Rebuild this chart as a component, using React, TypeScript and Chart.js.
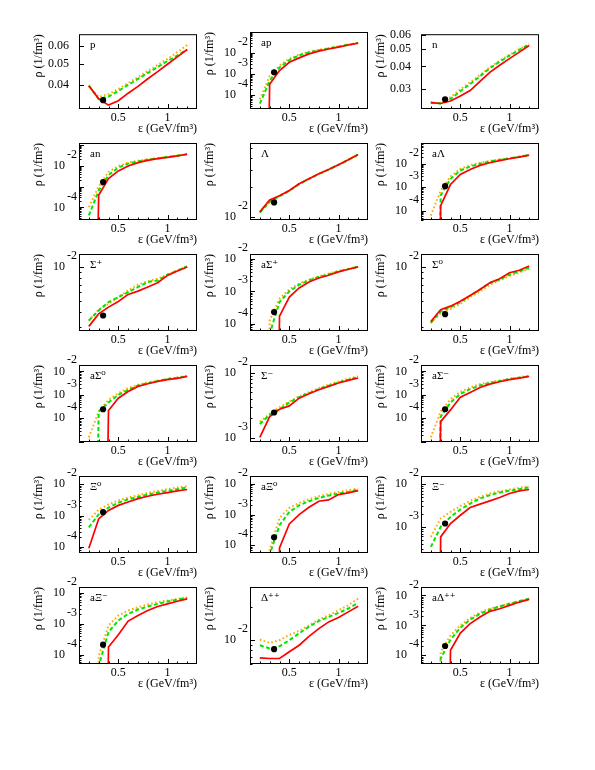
import React, { useEffect, useRef } from "react";
import { Chart, registerables } from "chart.js";

Chart.register(...registerables);

const FONT = "'Liberation Serif', 'DejaVu Serif', serif";

// energy density points (GeV/fm^3)
const EPS = [0.2, 0.3, 0.4, 0.5, 0.6, 0.7, 0.8, 0.9, 1.0, 1.1, 1.2];
const DOT_EPS = 0.345;
const X_TICKS = [0.5, 1];
const X_MINOR = [0.2, 0.3, 0.4, 0.5, 0.6, 0.7, 0.8, 0.9, 1, 1.1, 1.2];
const X_MIN = 0.1;
const X_MAX = 1.3;

// p
const P_RED = [0.0397, 0.0346, 0.0324, 0.0339, 0.0367, 0.0394, 0.0427, 0.046, 0.0497, 0.0537, 0.058];
const P_GREEN = [0.0397, 0.0346, 0.0354, 0.0376, 0.04, 0.0426, 0.0454, 0.0483, 0.0514, 0.0545, 0.058];
const P_ORANGE = [0.0395, 0.0353, 0.0363, 0.0384, 0.0408, 0.0434, 0.0463, 0.0493, 0.0526, 0.0564, 0.0608];
const P_DOT = 0.0341;
// ap
const AP_RED = [0, 3.31e-4, 1.45e-3, 3.55e-3, 5.75e-3, 8.9e-3, 1.2e-2, 1.51e-2, 1.86e-2, 2.34e-2, 2.88e-2];
const AP_GREEN = [3.98e-5, 4.79e-4, 2.04e-3, 4.57e-3, 7.59e-3, 1.05e-2, 1.32e-2, 1.58e-2, 1.95e-2, 2.4e-2, 2.88e-2];
const AP_ORANGE = [6.46e-5, 7.94e-4, 2.51e-3, 5.25e-3, 8.32e-3, 1.12e-2, 1.38e-2, 1.66e-2, 2.0e-2, 2.45e-2, 2.95e-2];
const AP_DOT = 1.2e-3;
// n
const N_RED = [0.025, 0.0247, 0.0255, 0.0272, 0.0292, 0.0329, 0.037, 0.0406, 0.0442, 0.0481, 0.0524];
const N_GREEN = [0.025, 0.0247, 0.0262, 0.029, 0.0318, 0.0352, 0.039, 0.0425, 0.046, 0.0495, 0.053];
const N_ORANGE = [0.025, 0.0248, 0.0268, 0.0297, 0.0325, 0.0358, 0.0395, 0.043, 0.0465, 0.05, 0.0535];
const N_DOT = 0.0261;
// an
const AN_RED = [0, 3.8e-4, 2.4e-3, 5.62e-3, 9.77e-3, 1.41e-2, 1.82e-2, 2.19e-2, 2.51e-2, 2.95e-2, 3.55e-2];
const AN_GREEN = [4.17e-5, 6.31e-4, 3.55e-3, 8.13e-3, 1.26e-2, 1.62e-2, 1.95e-2, 2.24e-2, 2.63e-2, 3.02e-2, 3.55e-2];
const AN_ORANGE = [1.05e-4, 1.0e-3, 5.01e-3, 9.77e-3, 1.41e-2, 1.74e-2, 2.04e-2, 2.34e-2, 2.69e-2, 3.09e-2, 3.63e-2];
const AN_DOT = 1.66e-3;
// Lambda
const L_RED = [1.12e-2, 1.48e-2, 1.64e-2, 1.85e-2, 2.17e-2, 2.44e-2, 2.74e-2, 3.04e-2, 3.4e-2, 3.82e-2, 4.31e-2];
const L_GREEN = [1.1e-2, 1.42e-2, 1.62e-2, 1.84e-2, 2.15e-2, 2.43e-2, 2.73e-2, 3.03e-2, 3.38e-2, 3.8e-2, 4.3e-2];
const L_ORANGE = [1.1e-2, 1.42e-2, 1.63e-2, 1.85e-2, 2.16e-2, 2.44e-2, 2.74e-2, 3.05e-2, 3.4e-2, 3.83e-2, 4.33e-2];
const L_DOT = 1.4e-2;
// anti-Lambda
const AL_RED = [0, 1.62e-4, 1.3e-3, 3.49e-3, 5.71e-3, 8.51e-3, 1.1e-2, 1.35e-2, 1.64e-2, 1.93e-2, 2.35e-2];
const AL_GREEN = [0, 4.4e-4, 2.28e-3, 5.18e-3, 7.69e-3, 1.0e-2, 1.26e-2, 1.48e-2, 1.69e-2, 2.0e-2, 2.35e-2];
const AL_ORANGE = [6.11e-5, 7.19e-4, 2.86e-3, 6.11e-3, 8.77e-3, 1.1e-2, 1.32e-2, 1.53e-2, 1.74e-2, 2.04e-2, 2.4e-2];
const AL_DOT = 1.1e-3;
// Sigma+
const SP_RED = [3.01e-3, 3.87e-3, 4.44e-3, 4.98e-3, 5.74e-3, 6.14e-3, 6.67e-3, 7.28e-3, 8.43e-3, 9.23e-3, 1.0e-2];
const SP_GREEN = [3.38e-3, 4.15e-3, 4.91e-3, 5.43e-3, 6.01e-3, 6.67e-3, 7.38e-3, 7.62e-3, 8.55e-3, 9.29e-3, 1.01e-2];
const SP_ORANGE = [3.38e-3, 4.23e-3, 4.74e-3, 5.43e-3, 6.22e-3, 6.98e-3, 7.48e-3, 7.89e-3, 8.55e-3, 9.35e-3, 1.01e-2];
const SP_DOT = 3.75e-3;
// anti-Sigma+
const ASP_RED = [0, 0, 1.74e-4, 6.7e-4, 1.27e-3, 1.94e-3, 2.57e-3, 3.1e-3, 3.94e-3, 4.75e-3, 5.61e-3];
const ASP_GREEN = [0, 5.01e-5, 4.7e-4, 1.0e-3, 1.6e-3, 2.18e-3, 2.76e-3, 3.33e-3, 4.12e-3, 4.75e-3, 5.74e-3];
const ASP_ORANGE = [0, 1.28e-4, 5.94e-4, 1.15e-3, 1.74e-3, 2.29e-3, 2.88e-3, 3.47e-3, 4.22e-3, 4.84e-3, 5.82e-3];
const ASP_DOT = 2.31e-4;
// Sigma0
const S0_RED = [3.32e-3, 4.21e-3, 4.53e-3, 5.01e-3, 5.62e-3, 6.35e-3, 7.28e-3, 7.89e-3, 8.91e-3, 9.35e-3, 1.02e-2];
const S0_GREEN = [3.23e-3, 4.06e-3, 4.44e-3, 4.91e-3, 5.62e-3, 6.35e-3, 7.23e-3, 7.78e-3, 8.55e-3, 9.16e-3, 9.86e-3];
const S0_ORANGE = [3.23e-3, 3.93e-3, 4.29e-3, 4.74e-3, 5.43e-3, 6.1e-3, 6.98e-3, 7.62e-3, 8.34e-3, 8.91e-3, 9.66e-3];
const S0_DOT = 3.85e-3;
// anti-Sigma0
const AS0_RED = [0, 0, 2.13e-4, 7.19e-4, 1.39e-3, 2.28e-3, 2.96e-3, 3.72e-3, 4.4e-3, 5.01e-3, 6.11e-3];
const AS0_GREEN = [0, 1.93e-4, 4.69e-4, 1.0e-3, 1.64e-3, 2.51e-3, 3.16e-3, 3.85e-3, 4.69e-3, 5.36e-3, 6.11e-3];
const AS0_ORANGE = [1.53e-5, 1.93e-4, 6.11e-4, 1.18e-3, 1.93e-3, 2.69e-3, 3.38e-3, 3.98e-3, 4.85e-3, 5.53e-3, 6.52e-3];
const AS0_DOT = 2.43e-4;
// Sigma-
const SM_RED = [1.01e-3, 2.12e-3, 2.75e-3, 3.1e-3, 4.08e-3, 4.78e-3, 5.51e-3, 6.21e-3, 7.0e-3, 7.69e-3, 8.36e-3];
const SM_GREEN = [1.63e-3, 2.25e-3, 2.75e-3, 3.5e-3, 4.24e-3, 4.89e-3, 5.65e-3, 6.35e-3, 7.16e-3, 7.87e-3, 8.67e-3];
const SM_ORANGE = [1.77e-3, 2.33e-3, 2.96e-3, 3.63e-3, 4.34e-3, 5.07e-3, 5.85e-3, 6.59e-3, 7.41e-3, 8.17e-3, 8.87e-3];
const SM_DOT = 2.45e-3;
// anti-Sigma-
const ASM_RED = [0, 7.19e-5, 2.28e-4, 7.94e-4, 1.26e-3, 2.06e-3, 2.86e-3, 3.61e-3, 4.4e-3, 5.13e-3, 6.11e-3];
const ASM_GREEN = [0, 1.18e-4, 4.69e-4, 1.1e-3, 1.75e-3, 2.51e-3, 3.16e-3, 3.85e-3, 4.69e-3, 5.36e-3, 6.11e-3];
const ASM_ORANGE = [1.53e-5, 1.93e-4, 6.52e-4, 1.35e-3, 2.06e-3, 2.86e-3, 3.49e-3, 4.11e-3, 4.85e-3, 5.53e-3, 6.52e-3];
const ASM_DOT = 2.43e-4;
// Xi0
const X0_RED = [9.06e-5, 7.8e-4, 1.45e-3, 2.1e-3, 2.69e-3, 3.45e-3, 4.1e-3, 4.75e-3, 5.38e-3, 6.1e-3, 6.73e-3];
const X0_GREEN = [4.21e-4, 1.08e-3, 1.77e-3, 2.56e-3, 3.28e-3, 3.9e-3, 4.65e-3, 5.38e-3, 6.1e-3, 6.9e-3, 7.8e-3];
const X0_ORANGE = [7.24e-4, 1.52e-3, 2.26e-3, 3.05e-3, 3.72e-3, 4.42e-3, 5.25e-3, 6.1e-3, 6.9e-3, 7.8e-3, 8.61e-3];
const X0_DOT = 1.28e-3;
// anti-Xi0
const AX0_RED = [0, 0, 8.18e-5, 4.97e-4, 1.0e-3, 1.73e-3, 2.72e-3, 3.01e-3, 4.49e-3, 5.09e-3, 6.07e-3];
const AX0_GREEN = [0, 5.01e-5, 4.49e-4, 1.22e-3, 2.01e-3, 2.72e-3, 3.49e-3, 4.17e-3, 4.84e-3, 5.48e-3, 6.53e-3];
const AX0_ORANGE = [0, 7.23e-5, 7.78e-4, 1.65e-3, 2.4e-3, 3.16e-3, 3.96e-3, 4.72e-3, 5.48e-3, 6.21e-3, 7.05e-3];
const AX0_DOT = 1.82e-4;
// Xi-
const XM_RED = [0, 5.83e-4, 1.2e-3, 1.87e-3, 2.84e-3, 3.4e-3, 4.06e-3, 4.86e-3, 6.04e-3, 6.98e-3, 7.5e-3];
const XM_GREEN = [3.4e-4, 1.0e-3, 1.71e-3, 2.55e-3, 3.52e-3, 4.61e-3, 5.52e-3, 6.38e-3, 6.98e-3, 7.64e-3, 8.36e-3];
const XM_ORANGE = [5.83e-4, 1.57e-3, 2.25e-3, 3.05e-3, 4.06e-3, 5.05e-3, 6.04e-3, 6.85e-3, 7.5e-3, 8.2e-3, 8.97e-3];
const XM_DOT = 1.2e-3;
// anti-Xi-
const AXM_RED = [0, 0, 1.8e-4, 4.46e-4, 1.22e-3, 1.85e-3, 2.67e-3, 3.57e-3, 4.35e-3, 5.28e-3, 6.28e-3];
const AXM_GREEN = [0, 4.47e-5, 5.42e-4, 1.28e-3, 2.08e-3, 2.86e-3, 3.57e-3, 4.35e-3, 5.16e-3, 5.98e-3, 6.76e-3];
const AXM_ORANGE = [0, 9.33e-5, 8.85e-4, 1.85e-3, 2.67e-3, 3.4e-3, 4.14e-3, 4.91e-3, 5.56e-3, 6.28e-3, 7.1e-3];
const AXM_DOT = 2.14e-4;
// Delta++
const D_RED = [6.81e-3, 6.71e-3, 6.71e-3, 7.73e-3, 8.87e-3, 1.07e-2, 1.26e-2, 1.45e-2, 1.59e-2, 1.79e-2, 2.01e-2];
const D_GREEN = [8.87e-3, 8.28e-3, 8.69e-3, 9.86e-3, 1.14e-2, 1.31e-2, 1.48e-2, 1.61e-2, 1.75e-2, 1.92e-2, 2.16e-2];
const D_ORANGE = [1.0e-2, 9.33e-3, 9.86e-3, 1.1e-2, 1.2e-2, 1.35e-2, 1.52e-2, 1.67e-2, 1.85e-2, 2.06e-2, 2.37e-2];
const D_DOT = 8.17e-3;
// anti-Delta++
const AD_RED = [0, 0, 1.47e-4, 5.55e-4, 1.14e-3, 1.9e-3, 2.93e-3, 3.6e-3, 4.65e-3, 6.0e-3, 7.36e-3];
const AD_GREEN = [0, 7.76e-5, 3.33e-4, 8.36e-4, 1.55e-3, 2.45e-3, 3.33e-3, 4.3e-3, 5.27e-3, 6.47e-3, 7.74e-3];
const AD_ORANGE = [0, 1.29e-4, 4.65e-4, 1.0e-3, 1.77e-3, 2.71e-3, 3.6e-3, 4.41e-3, 5.27e-3, 6.31e-3, 7.74e-3];
const AD_DOT = 2.05e-4;

// y tick labels per panel
const TICKS_P = [0.04, 0.05, 0.06];
const TICKS_N = [0.03, 0.04, 0.05, 0.06];
const TICKS_234 = [1e-2, 1e-3, 1e-4];
const TICKS_24 = [1e-2, 1e-4];
const TICKS_23 = [1e-2, 1e-3];
const TICKS_2 = [1e-2];

type PanelDef = {
  label: string; red: number[]; green: number[]; orange: number[]; dot: number;
  yMin: number; yMax: number; yTicks: number[]; plain?: boolean;
};

const PANELS: PanelDef[] = [
  { label: "p", red: P_RED, green: P_GREEN, orange: P_ORANGE, dot: P_DOT, yMin: 0.0311, yMax: 0.0681, yTicks: TICKS_P, plain: true },
  { label: "ap", red: AP_RED, green: AP_GREEN, orange: AP_ORANGE, dot: AP_DOT, yMin: 2.24e-5, yMax: 0.0955, yTicks: TICKS_234 },
  { label: "n", red: N_RED, green: N_GREEN, orange: N_ORANGE, dot: N_DOT, yMin: 0.0231, yMax: 0.0607, yTicks: TICKS_N, plain: true },
  { label: "an", red: AN_RED, green: AN_GREEN, orange: AN_ORANGE, dot: AN_DOT, yMin: 2.5e-5, yMax: 0.123, yTicks: TICKS_24 },
  { label: "Λ", red: L_RED, green: L_GREEN, orange: L_ORANGE, dot: L_DOT, yMin: 9.25e-3, yMax: 0.0566, yTicks: TICKS_2 },
  { label: "aΛ", red: AL_RED, green: AL_GREEN, orange: AL_ORANGE, dot: AL_DOT, yMin: 3.98e-5, yMax: 0.0769, yTicks: TICKS_234 },
  { label: "Σ⁺", red: SP_RED, green: SP_GREEN, orange: SP_ORANGE, dot: SP_DOT, yMin: 2.74e-3, yMax: 0.013, yTicks: TICKS_2 },
  { label: "aΣ⁺", red: ASP_RED, green: ASP_GREEN, orange: ASP_ORANGE, dot: ASP_DOT, yMin: 6.1e-5, yMax: 0.0139, yTicks: TICKS_234 },
  { label: "Σ⁰", red: S0_RED, green: S0_GREEN, orange: S0_ORANGE, dot: S0_DOT, yMin: 2.74e-3, yMax: 0.013, yTicks: TICKS_2 },
  { label: "aΣ⁰", red: AS0_RED, green: AS0_GREEN, orange: AS0_ORANGE, dot: AS0_DOT, yMin: 9.8e-6, yMax: 0.0186, yTicks: TICKS_234 },
  { label: "Σ⁻", red: SM_RED, green: SM_GREEN, orange: SM_ORANGE, dot: SM_DOT, yMin: 8.57e-4, yMax: 0.0133, yTicks: TICKS_23 },
  { label: "aΣ⁻", red: ASM_RED, green: ASM_GREEN, orange: ASM_ORANGE, dot: ASM_DOT, yMin: 9.8e-6, yMax: 0.0186, yTicks: TICKS_234 },
  { label: "Ξ⁰", red: X0_RED, green: X0_GREEN, orange: X0_ORANGE, dot: X0_DOT, yMin: 6.4e-5, yMax: 0.0181, yTicks: TICKS_234 },
  { label: "aΞ⁰", red: AX0_RED, green: AX0_GREEN, orange: AX0_ORANGE, dot: AX0_DOT, yMin: 5.6e-5, yMax: 0.0181, yTicks: TICKS_234 },
  { label: "Ξ⁻", red: XM_RED, green: XM_GREEN, orange: XM_ORANGE, dot: XM_DOT, yMin: 2.45e-4, yMax: 0.0155, yTicks: TICKS_23 },
  { label: "aΞ⁻", red: AXM_RED, green: AXM_GREEN, orange: AXM_ORANGE, dot: AXM_DOT, yMin: 5.16e-5, yMax: 0.0151, yTicks: TICKS_234 },
  { label: "Δ⁺⁺", red: D_RED, green: D_GREEN, orange: D_ORANGE, dot: D_DOT, yMin: 5.98e-3, yMax: 0.0302, yTicks: TICKS_2 },
  { label: "aΔ⁺⁺", red: AD_RED, green: AD_GREEN, orange: AD_ORANGE, dot: AD_DOT, yMin: 5.13e-5, yMax: 0.0191, yTicks: TICKS_234 },
];

// layout of the 3 x 6 grid (frame positions in page pixels)
const FRAME_LEFT = [79, 250, 421];
const FRAME_TOP0 = 32;
const ROW_PITCH = 111;
const CANVAS_W = 201;
const CANVAS_H = 120;
const AREA_LEFT = 75;
const AREA_TOP = 15;

// a zero density sits far below the logarithmic axis (drawn as a vertical drop)
const offScale = (v: number) => (v > 0 ? v : 1e-30);

function framePlugin(pn: PanelDef) {
  return {
    id: "rootFrame",
    afterDatasetsDraw(chart: any) {
      const { ctx, chartArea: a } = chart;
      const xs = chart.scales.x;
      const ys = chart.scales.y;
      ctx.save();
      ctx.strokeStyle = "#000";
      ctx.lineWidth = 1;
      ctx.beginPath();
      for (const v of X_MINOR) {
        const px = Math.round(xs.getPixelForValue(v)) + 0.5;
        const len = X_TICKS.includes(v) ? 5 : 2.5;
        ctx.moveTo(px, a.bottom);
        ctx.lineTo(px, a.bottom - len);
      }
      const lo = Math.floor(Math.log10(ys.min));
      const hi = Math.ceil(Math.log10(ys.max));
      for (let k = lo; k <= hi; k++) {
        for (let m = 1; m <= 9; m++) {
          const v = m * Math.pow(10, k);
          if (v < ys.min || v > ys.max) continue;
          const major = m === 1 || pn.yTicks.some((t) => Math.abs(t - v) / t < 1e-6);
          const py = Math.round(ys.getPixelForValue(v)) + 0.5;
          ctx.moveTo(a.left, py);
          ctx.lineTo(a.left + (major ? 5 : 2.5), py);
        }
      }
      ctx.stroke();
      ctx.strokeRect(a.left + 0.5, a.top + 0.5, a.right - a.left - 1, a.bottom - a.top - 1);
      ctx.fillStyle = "#000";
      ctx.font = `11px ${FONT}`;
      ctx.textBaseline = "middle";
      ctx.textAlign = "left";
      ctx.fillText(pn.label, a.left + 11, a.top + 11);
      ctx.restore();
    },
  };
}

function makeConfig(pn: PanelDef): any {
  const line = (vals: number[]) => EPS.map((x, i) => ({ x, y: offScale(vals[i]) }));
  return {
    type: "line",
    data: {
      datasets: [
        {
          type: "scatter",
          data: [{ x: DOT_EPS, y: pn.dot }],
          pointRadius: 3.1,
          pointBackgroundColor: "#000",
          pointBorderColor: "#000",
          pointBorderWidth: 0,
          showLine: false,
        },
        { data: line(pn.red), borderColor: "#ff0000", borderWidth: 1.7, pointRadius: 0, clip: 0, tension: 0 },
        { data: line(pn.green), borderColor: "#00e600", borderWidth: 2, borderDash: [4, 2.5], pointRadius: 0, clip: 0, tension: 0 },
        { data: line(pn.orange), borderColor: "#ffaa00", borderWidth: 2, borderDash: [1.6, 2.4], pointRadius: 0, clip: 0, tension: 0 },
      ],
    },
    options: {
      responsive: false,
      animation: false,
      devicePixelRatio: 1,
      events: [],
      layout: { padding: { top: AREA_TOP, right: CANVAS_W - AREA_LEFT - 118, bottom: 0, left: 0 } },
      plugins: { legend: { display: false }, tooltip: { enabled: false } },
      scales: {
        x: {
          type: "linear",
          min: X_MIN,
          max: X_MAX,
          grid: { display: false, drawTicks: false },
          border: { display: false },
          afterFit: (s: any) => { s.height = CANVAS_H - AREA_TOP - 77; },
          afterBuildTicks: (s: any) => { s.ticks = X_TICKS.map((v) => ({ value: v })); },
          ticks: {
            autoSkip: false,
            maxRotation: 0,
            padding: 2,
            color: "#000",
            font: { family: FONT, size: 12 },
            callback: (v: number) => String(v),
          },
          title: {
            display: true,
            text: "ε (GeV/fm³)",
            align: "end",
            color: "#000",
            font: { family: FONT, size: 12 },
            padding: { top: 0, bottom: 1 },
          },
        },
        y: {
          type: "logarithmic",
          min: pn.yMin,
          max: pn.yMax,
          grid: { display: false, drawTicks: false },
          border: { display: false },
          afterFit: (s: any) => { s.width = AREA_LEFT; },
          afterBuildTicks: (s: any) => { s.ticks = pn.yTicks.map((v) => ({ value: v })); },
          ticks: {
            autoSkip: false,
            padding: pn.plain ? 10 : 2,
            labelOffset: pn.plain ? 0 : -5.5,
            color: "#000",
            font: { family: FONT, size: 12, lineHeight: pn.plain ? 1.2 : 0.92 },
            callback: (v: number) =>
              pn.plain ? v.toFixed(2) : [String(Math.round(Math.log10(v))), "10    "],
          },
          title: {
            display: true,
            text: "ρ (1/fm³)",
            align: "end",
            color: "#000",
            font: { family: FONT, size: 12 },
            padding: { top: 28, bottom: 0 },
          },
        },
      },
    },
    plugins: [framePlugin(pn)],
  };
}

function Panel({ pn, left, top }: { pn: PanelDef; left: number; top: number }) {
  const ref = useRef<HTMLCanvasElement | null>(null);
  useEffect(() => {
    if (!ref.current) return;
    const chart = new Chart(ref.current, makeConfig(pn));
    return () => chart.destroy();
  }, [pn]);
  return (
    <canvas
      ref={ref}
      width={CANVAS_W}
      height={CANVAS_H}
      style={{ position: "absolute", left, top, width: CANVAS_W, height: CANVAS_H }}
    />
  );
}

export default function App() {
  return (
    <div style={{ position: "absolute", left: 0, top: 0, width: 595, height: 770, background: "#fff" }}>
      {PANELS.map((pn, i) => {
        const col = i % 3;
        const row = Math.floor(i / 3);
        return (
          <Panel
            key={pn.label}
            pn={pn}
            left={FRAME_LEFT[col] - AREA_LEFT}
            top={FRAME_TOP0 + row * ROW_PITCH - AREA_TOP}
          />
        );
      })}
    </div>
  );
}
